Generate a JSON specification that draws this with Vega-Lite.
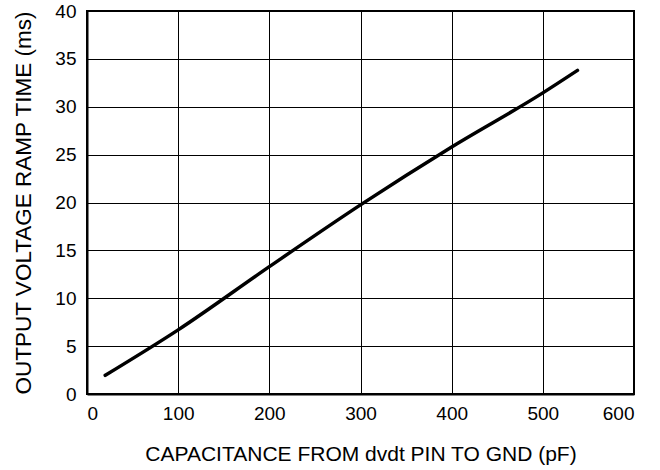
{
  "$schema": "https://vega.github.io/schema/vega-lite/v6.json",
  "width": 547,
  "height": 383,
  "autosize": {"type": "none"},
  "padding": {"left": 87, "top": 11, "right": 26, "bottom": 76},
  "background": "white",
  "config": {
    "view": {"stroke": "black", "strokeWidth": 2},
    "font": "Liberation Sans",
    "axis": {
      "domainColor": "black",
      "domainWidth": 2,
      "gridColor": "black",
      "gridOpacity": 1,
      "gridWidth": 1,
      "ticks": false,
      "labelColor": "black",
      "titleColor": "black",
      "labelFont": "Liberation Sans",
      "titleFont": "Liberation Sans",
      "labelFontSize": 19,
      "titleFontSize": 21,
      "titleFontWeight": "normal"
    }
  },
  "data": {
    "values": [
      {"c": 20, "t": 1.95},
      {"c": 100, "t": 6.7},
      {"c": 200, "t": 13.3},
      {"c": 300, "t": 19.75},
      {"c": 400, "t": 25.8},
      {"c": 500, "t": 31.45},
      {"c": 538, "t": 33.8}
    ]
  },
  "mark": {"type": "line", "color": "black", "strokeWidth": 3.5, "strokeCap": "round", "interpolate": "monotone"},
  "encoding": {
    "x": {
      "field": "c", "type": "quantitative",
      "scale": {"domain": [0, 600], "nice": false},
      "axis": {"values": [0, 100, 200, 300, 400, 500, 600], "labelPadding": 10, "titlePadding": 20, "title": "CAPACITANCE FROM dvdt PIN TO GND (pF)"}
    },
    "y": {
      "field": "t", "type": "quantitative",
      "scale": {"domain": [0, 40], "nice": false},
      "axis": {"values": [0, 5, 10, 15, 20, 25, 30, 35, 40], "labelPadding": 11, "titlePadding": 19, "titleFontSize": 22.5, "title": "OUTPUT VOLTAGE RAMP TIME (ms)"}
    }
  }
}
